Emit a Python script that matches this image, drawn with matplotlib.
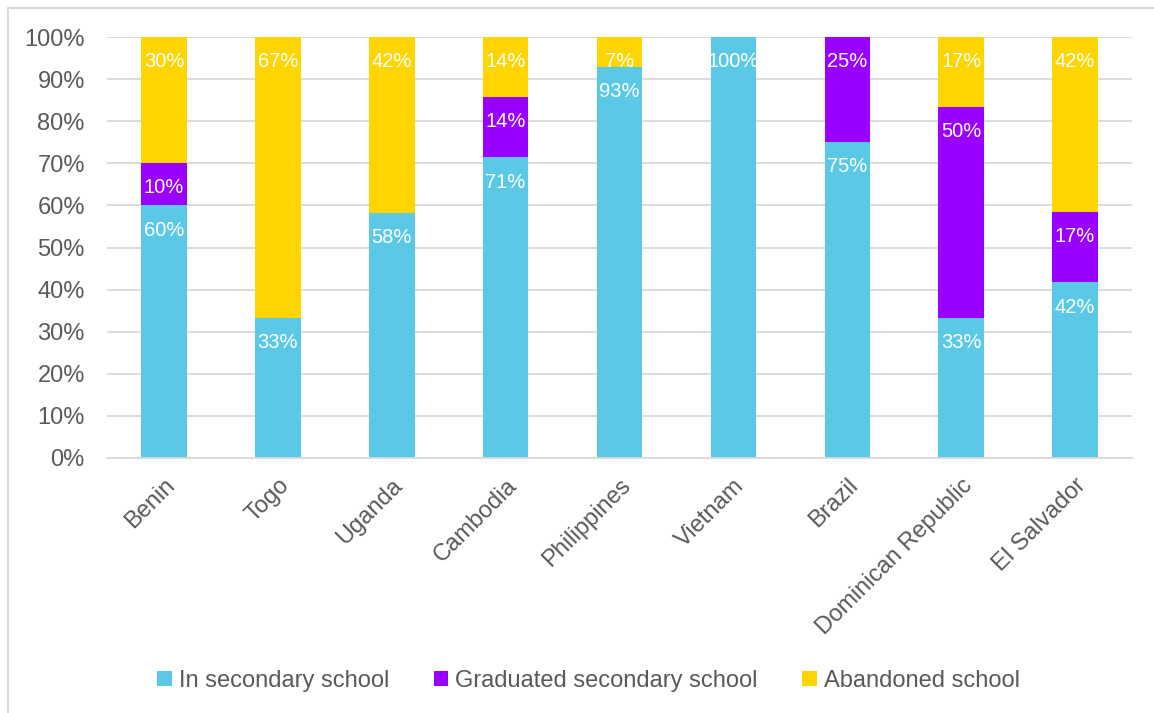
import numpy as np
import matplotlib
matplotlib.use("Agg")
import matplotlib.pyplot as plt
from matplotlib.patches import Rectangle

plt.rcParams['font.family'] = ['Liberation Sans', 'DejaVu Sans']

countries = ["Benin", "Togo", "Uganda", "Cambodia", "Philippines", "Vietnam",
             "Brazil", "Dominican Republic", "El Salvador"]
in_school = [60, 33.3, 58.3, 71.4, 92.9, 100, 75, 33.3, 41.7]
graduated = [10, 0, 0, 14.3, 0, 0, 25, 50, 16.7]
abandoned = [30, 66.7, 41.7, 14.3, 7.1, 0, 0, 16.7, 41.7]
series_names = ["In secondary school", "Graduated secondary school", "Abandoned school"]
colors = ["#5BC9E6", "#9900FF", "#FFD500"]

fig = plt.figure(figsize=(11.54, 7.13), dpi=100)
ax = fig.add_axes([107/1154, 1 - 458/713, (1132-107)/1154, (458-37)/713])

x = np.arange(len(countries))
bottom = np.zeros(len(countries))
for vals, name, c in zip([in_school, graduated, abandoned], series_names, colors):
    vals = np.array(vals)
    ax.bar(x, vals, 0.4, bottom=bottom, color=c, label=name, zorder=2)
    for xi, b, v in zip(x, bottom, vals):
        if v > 0:
            ax.text(xi, b + v - 3.6, "%d%%" % round(v), ha="center", va="top",
                    color="white", fontsize=14.5, zorder=3)
    bottom += vals

ax.set_xlim(-0.5, len(countries) - 0.5)
ax.set_ylim(0, 100)
ax.set_yticks(np.arange(0, 101, 10))
ax.set_yticklabels(["%d%%" % t for t in range(0, 101, 10)])
ax.yaxis.grid(True, color="#D9D9D9", linewidth=1.3, zorder=0)
ax.set_axisbelow(True)
for s in ["top", "right", "left"]:
    ax.spines[s].set_visible(False)
ax.spines["bottom"].set_color("#D9D9D9")
ax.spines["bottom"].set_linewidth(1.3)
ax.tick_params(axis="both", length=0, labelsize=17, labelcolor="#595959")
ax.tick_params(axis="y", pad=16)
ax.set_xticks(x)
ax.set_xticklabels(countries, rotation=45, ha="right", rotation_mode="anchor")
ax.tick_params(axis="x", pad=12)

leg = fig.legend(loc="center", bbox_to_anchor=(0.51, 1 - 681/713), ncol=3,
                 frameon=False, fontsize=17, handlelength=0.6, handleheight=0.6,
                 handletextpad=0.3, columnspacing=1.9)
for t in leg.get_texts():
    t.set_color("#595959")

fig.patches.append(Rectangle((8/1154, -0.05), 1.2, 1 - 8/713 + 0.05,
                             transform=fig.transFigure, fill=False,
                             edgecolor="#D9D9D9", linewidth=1.5))

fig.savefig("out.png", dpi=100)
